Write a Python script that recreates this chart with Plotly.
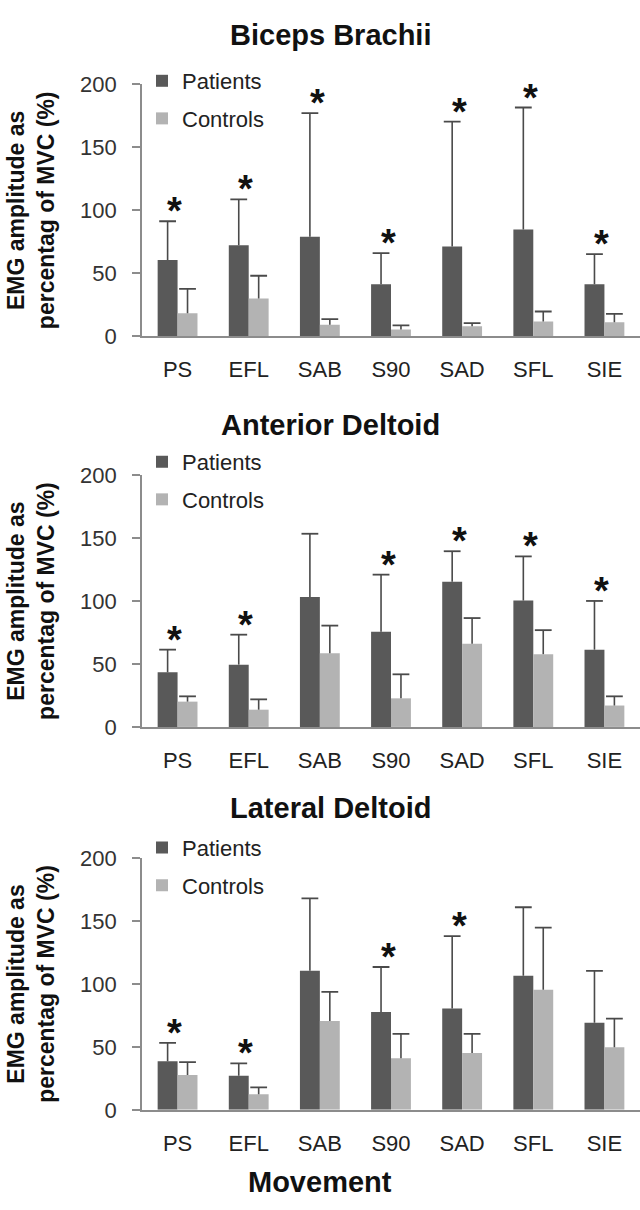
import plotly.graph_objects as go

categories = ["PS", "EFL", "SAB", "S90", "SAD", "SFL", "SIE"]
panel_titles = ["Biceps Brachii", "Anterior Deltoid", "Lateral Deltoid"]
series_names = ["Patients", "Controls"]
y_ticks = [0, 50, 100, 150, 200]

# Biceps Brachii
pat_bb = [60.5, 72.2, 79.0, 41.2, 71.2, 84.7, 41.2]
pat_bb_sd = [30.8, 36.5, 98.3, 24.8, 99.3, 97.0, 24.0]
con_bb = [18.3, 30.0, 9.1, 5.2, 7.8, 11.7, 11.0]
con_bb_sd = [19.2, 18.0, 4.5, 3.4, 2.6, 7.9, 6.7]
sig_bb = [1, 1, 1, 1, 1, 1, 1]

# Anterior Deltoid
pat_ad = [43.4, 49.5, 103.2, 75.6, 115.4, 100.4, 61.4]
pat_ad_sd = [18.0, 23.8, 50.3, 45.4, 24.2, 35.1, 38.7]
con_ad = [20.1, 13.7, 58.6, 22.7, 66.0, 57.8, 17.0]
con_ad_sd = [4.2, 8.2, 21.9, 19.1, 20.5, 19.1, 7.3]
sig_ad = [1, 1, 0, 1, 1, 1, 1]

# Lateral Deltoid
pat_ld = [38.7, 27.1, 110.5, 77.7, 80.5, 106.6, 69.2]
pat_ld_sd = [14.5, 9.8, 57.5, 35.8, 57.5, 54.4, 41.3]
con_ld = [27.6, 12.4, 70.5, 41.0, 45.2, 95.5, 49.8]
con_ld_sd = [10.3, 5.4, 23.2, 19.4, 15.2, 49.3, 22.7]
sig_ld = [1, 1, 0, 1, 1, 0, 0]

panels = [
    (pat_bb, pat_bb_sd, con_bb, con_bb_sd, sig_bb),
    (pat_ad, pat_ad_sd, con_ad, con_ad_sd, sig_ad),
    (pat_ld, pat_ld_sd, con_ld, con_ld_sd, sig_ld),
]

W, H = 640, 1210
FONT = "Liberation Sans, Arial, Helvetica, sans-serif"
PAT_COL = "#595959"
CON_COL = "#b3b3b3"
ERR_COL = "#4a4a4a"
AX_COL = "#8c8c8c"

# pixel layout of the plot areas (top, bottom)
plot_px = [(74, 331), (473, 730), (864, 1121)]
title_px = [23, 422, 813]
legend_top_px = [49, 438, 832]
PLOT_LEFT = 142

BAR_W = 0.28
OFF = 0.14

fig = go.Figure()
layout = dict(
    width=W, height=H,
    margin=dict(l=PLOT_LEFT, r=0, t=0, b=0),
    plot_bgcolor="white", paper_bgcolor="white",
    font=dict(family=FONT, size=22, color="#222222"),
    annotations=[],
)

idx = list(range(len(categories)))

for p, (pv, ps, cv, cs, sig) in enumerate(panels):
    n = "" if p == 0 else str(p + 1)
    xa, ya = "x" + n, "y" + n
    leg = "legend" + n
    xp = [i - OFF for i in idx]
    xc = [i + OFF for i in idx]
    for name, xs, vals, sds, col, grp in [
        (series_names[0], xp, pv, ps, PAT_COL, "P"),
        (series_names[1], xc, cv, cs, CON_COL, "C"),
    ]:
        fig.add_trace(go.Bar(
            x=xs, y=vals, width=BAR_W, name=name,
            marker=dict(color=col, line=dict(width=0)),
            error_y=dict(type="data", symmetric=False, array=sds,
                         arrayminus=[0] * len(sds), width=0,
                         thickness=1.6, color=ERR_COL),
            xaxis=xa, yaxis=ya, legend=leg, legendgroup=grp + n,
            showlegend=True,
        ))
        fig.add_trace(go.Scatter(
            x=xs, y=[v + s for v, s in zip(vals, sds)], mode="markers",
            marker=dict(symbol="line-ew", size=12,
                        line=dict(width=1.8, color=ERR_COL)),
            xaxis=xa, yaxis=ya, showlegend=False, hoverinfo="skip",
        ))
    top, bot = plot_px[p]
    layout["xaxis" + n] = dict(
        domain=[0, 1], range=[-0.5, len(categories) - 0.5],
        tickvals=idx, ticktext=categories, ticks="",
        showline=True, linecolor=AX_COL, linewidth=1.6,
        showgrid=False, zeroline=False, anchor=ya,
        ticklabelstandoff=13,
        tickfont=dict(size=22, color="#222222"),
    )
    layout["yaxis" + n] = dict(
        domain=[1 - bot / H, 1 - top / H], range=[0, 200],
        tickvals=y_ticks, ticks="outside", ticklen=8,
        tickcolor=AX_COL, tickwidth=1.6,
        showline=True, linecolor=AX_COL, linewidth=1.6,
        showgrid=False, zeroline=False, anchor=xa,
        ticklabelstandoff=11,
        tickfont=dict(size=22, color="#333333"),
        title=dict(text="<b>EMG amplitude as<br>percentag of MVC (%)</b>",
                   font=dict(size=23, color="#111111"), standoff=19),
    )
    layout[leg] = dict(
        x=0.0, xanchor="left", y=1 - legend_top_px[p] / H, yanchor="top",
        bgcolor="rgba(0,0,0,0)", borderwidth=0,
        font=dict(size=22, color="#222222"),
        tracegroupgap=6, itemclick=False,
    )
    layout["annotations"].append(dict(
        text="<b>%s</b>" % panel_titles[p], xref="paper", yref="paper",
        x=(330 - PLOT_LEFT) / (W - PLOT_LEFT), y=1 - title_px[p] / H,
        xanchor="center", yanchor="middle", showarrow=False,
        font=dict(size=29, color="#111111"),
    ))
    for i, s in enumerate(sig):
        if s:
            layout["annotations"].append(dict(
                text="<b>*</b>", xref=xa, yref=ya,
                x=i - 0.04, y=pv[i] + ps[i],
                xanchor="center", yanchor="middle", yshift=10,
                showarrow=False, font=dict(size=38, color="#111111"),
            ))

layout["annotations"].append(dict(
    text="<b>Movement</b>", xref="paper", yref="paper",
    x=(320 - PLOT_LEFT) / (W - PLOT_LEFT), y=1 - 1195 / H,
    xanchor="center", yanchor="middle", showarrow=False,
    font=dict(size=29, color="#111111"),
))

fig.update_layout(**layout)
fig.write_html("out.html")
